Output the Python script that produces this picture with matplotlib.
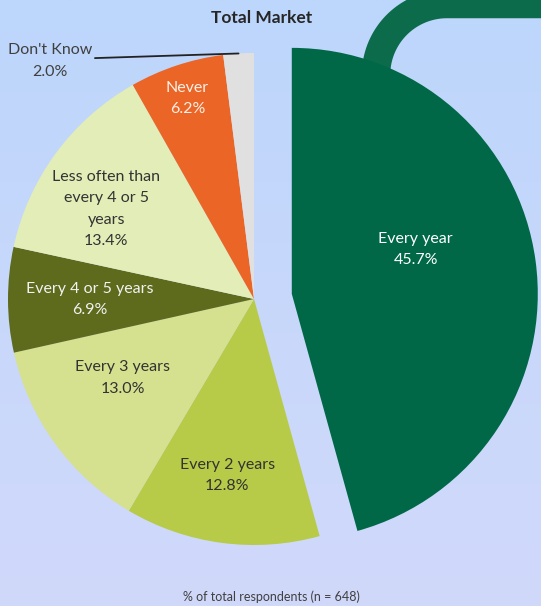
import numpy as np
import matplotlib.pyplot as plt

# data
categories = ["Every year", "Every 2 years", "Every 3 years", "Every 4 or 5 years",
              "Less often than\nevery 4 or 5\nyears", "Never", "Don't Know"]
shares = [45.7, 12.8, 13.0, 6.9, 13.4, 6.2, 2.0]
colors = ["#006847", "#b7cb48", "#d5e18e", "#5e6a1c", "#e2edb8", "#eb6526", "#e0e0e0"]
label_colors = ["white", "#333333", "#333333", "#f2f2f2", "#333333", "#fdf0e8", "#404040"]
title = "Total Market"
footnote = "% of total respondents (n = 648)"

W, H = 541, 606
fig = plt.figure(figsize=(W / 100, H / 100), dpi=100)
ax = fig.add_axes([0, 0, 1, 1])
plt.rcParams["font.family"] = ["Lato", "DejaVu Sans"]

# background gradient, light blue to lavender
grad = np.linspace(0, 1, 256)[:, None]
top = np.array([189, 214, 252]) / 255
bot = np.array([209, 217, 250]) / 255
img = top[None, None, :] * (1 - grad[..., None]) + bot[None, None, :] * grad[..., None]
ax.imshow(img, extent=[0, W, 0, H], aspect="auto", zorder=0)

# decorative green band in the upper right corner (sits behind the pie)
cx, cy, rr = 447, H - 75, 71
ang = np.linspace(np.pi, np.pi / 2, 60)
bx = np.concatenate([[376], cx + rr * np.cos(ang), [W + 40]])
by = np.concatenate([[H - 200], cy + rr * np.sin(ang), [cy + rr]])
ax.plot(bx, by, color="#0b6b4b", lw=20.5, solid_capstyle="butt", zorder=1)

# pie
radius = 246
center = (254, H - 299)
explode = [0.155 * radius] + [0] * (len(shares) - 1)
wedges, _ = ax.pie(shares, colors=colors, startangle=90, counterclock=False,
                   radius=radius, center=center, explode=explode,
                   wedgeprops=dict(linewidth=0, zorder=2))

# label placement: (distance as fraction of radius, angle nudge in degrees)
label_pos = [(0.535, 12), (0.727, -1), (0.623, -5), (0.667, 0), (0.703, 5), (0.86, 0)]
for w, name, pct, tc, (d, dth) in zip(wedges, categories, shares, label_colors, label_pos):
    th = np.radians((w.theta1 + w.theta2) / 2 + dth)
    x = w.center[0] + d * w.r * np.cos(th)
    y = w.center[1] + d * w.r * np.sin(th)
    ax.text(x, y, f"{name}\n{pct:.1f}%", ha="center", va="center", color=tc,
            fontsize=11.5, linespacing=1.65, zorder=5)

# Don't Know sits outside with a leader line
dk = wedges[-1]
th = np.radians((dk.theta1 + dk.theta2) / 2)
tip = (dk.center[0] + dk.r * np.cos(th), dk.center[1] + dk.r * np.sin(th))
ax.annotate(f"{categories[-1]}\n{shares[-1]:.1f}%", xy=tip,
            xytext=(50, H - 61), ha="center", va="center", color=label_colors[-1],
            fontsize=11.5, linespacing=1.65, zorder=5,
            arrowprops=dict(arrowstyle="-", color="#222222", lw=1.3,
                            shrinkA=0, shrinkB=0, relpos=(1.0, 0.58)))

ax.text(262, H - 18, title, ha="center", va="center", fontsize=12.5,
        fontweight="bold", color="#262626", zorder=5)
ax.text(271, H - 597, footnote, ha="center", va="center", fontsize=9,
        color="#404040", zorder=5)

ax.set_xlim(0, W)
ax.set_ylim(0, H)
ax.set_aspect("auto")
ax.axis("off")

fig.savefig("out.png", dpi=100)
